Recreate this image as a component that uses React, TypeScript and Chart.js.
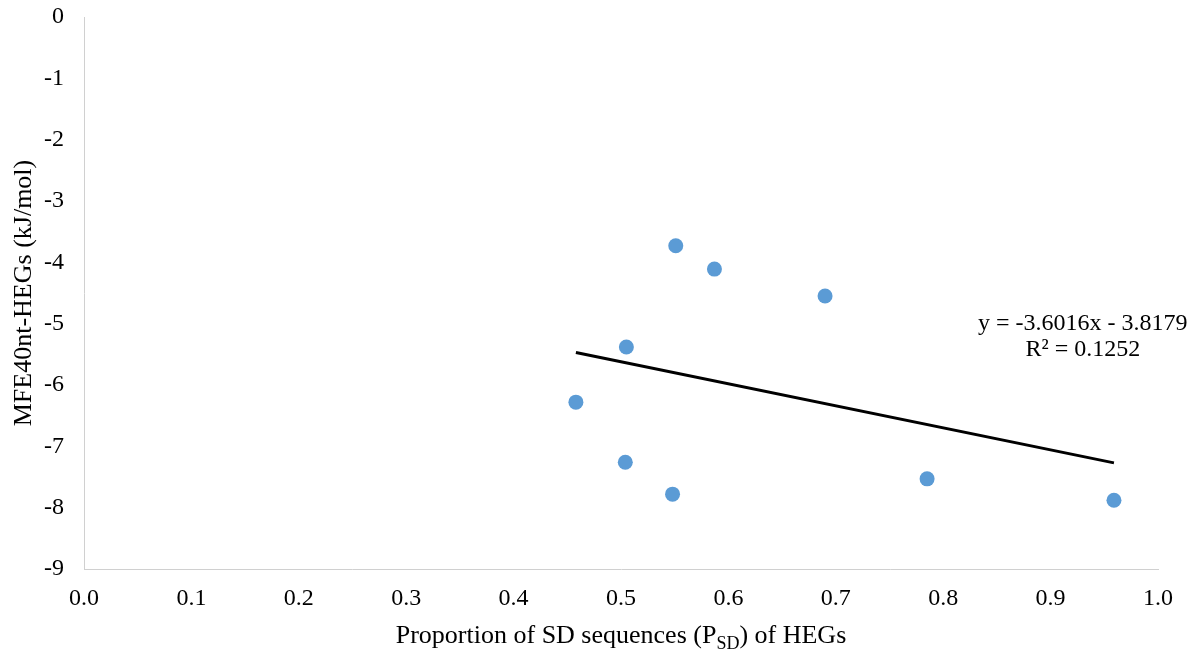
import React, { useEffect, useRef } from "react";
import { Chart, registerables } from "chart.js";

Chart.register(...registerables);

const sdProportion: number[] = [0.551, 0.587, 0.69, 0.505, 0.458, 0.504, 0.548, 0.785, 0.959];
const mfeValues: number[] = [-3.73, -4.11, -4.55, -5.38, -6.28, -7.26, -7.78, -7.53, -7.88];
const trendX: number[] = [0.458, 0.959];
const trendY: number[] = [-5.47, -7.27];
const equationLines: string[] = ["y = -3.6016x - 3.8179", "R² = 0.1252"];
const yTitle = "MFE40nt-HEGs (kJ/mol)";
const xTitleParts = { before: "Proportion of SD sequences (P", sub: "SD", after: ") of HEGs" };

const FONT = "'Liberation Serif', 'Times New Roman', serif";

const textPlugin = {
  id: "textPlugin",
  afterDraw(chart: any) {
    const ctx = chart.ctx as CanvasRenderingContext2D;
    const area = chart.chartArea;
    ctx.save();
    ctx.fillStyle = "#000";
    // equation label
    ctx.font = `24px ${FONT}`;
    ctx.textAlign = "center";
    ctx.textBaseline = "alphabetic";
    const ex = chart.scales.x.getPixelForValue(0.93);
    ctx.fillText(equationLines[0], ex, 330);
    ctx.fillText(equationLines[1], ex, 356);

    // x title with subscript
    const mainFont = `26px ${FONT}`;
    const subFont = `18px ${FONT}`;
    ctx.font = mainFont;
    const w1 = ctx.measureText(xTitleParts.before).width;
    const w3 = ctx.measureText(xTitleParts.after).width;
    ctx.font = subFont;
    const w2 = ctx.measureText(xTitleParts.sub).width;
    const total = w1 + w2 + w3;
    const cx = (area.left + area.right) / 2;
    let x = cx - total / 2;
    const base = 643;
    ctx.textAlign = "left";
    ctx.font = mainFont;
    ctx.fillText(xTitleParts.before, x, base);
    x += w1;
    ctx.font = subFont;
    ctx.fillText(xTitleParts.sub, x, base + 6);
    x += w2;
    ctx.font = mainFont;
    ctx.fillText(xTitleParts.after, x, base);

    // y title
    ctx.translate(31, (area.top + area.bottom) / 2);
    ctx.rotate(-Math.PI / 2);
    ctx.textAlign = "center";
    ctx.font = mainFont;
    ctx.fillText(yTitle, 0, 0);
    ctx.restore();
  },
};

export default function App() {
  const ref = useRef<HTMLCanvasElement | null>(null);
  useEffect(() => {
    document.body.style.margin = "0";
    if (!ref.current) return;
    const chart = new Chart(ref.current, {
      type: "scatter",
      data: {
        datasets: [
          {
            type: "line",
            label: "Trend",
            data: trendX.map((v, i) => ({ x: v, y: trendY[i] })),
            borderColor: "#000000",
            borderWidth: 3,
            pointRadius: 0,
            fill: false,
          } as any,
          {
            label: "HEGs",
            data: sdProportion.map((v, i) => ({ x: v, y: mfeValues[i] })),
            backgroundColor: "#5b9bd5",
            borderWidth: 0,
            pointRadius: 7.5,
          },
        ],
      },
      options: {
        responsive: false,
        animation: false,
        layout: { padding: { left: 0, right: 38, top: 17, bottom: 0 } },
        plugins: { legend: { display: false }, tooltip: { enabled: false } },
        scales: {
          x: {
            type: "linear",
            min: 0,
            max: 1,
            grid: { display: false, drawTicks: false },
            border: { display: true, color: "#d0d0d0", width: 1 },
            ticks: {
              stepSize: 0.1,
              padding: 15,
              color: "#000",
              font: { family: FONT, size: 24 },
              callback: (v: any) => Number(v).toFixed(1),
              maxRotation: 0,
            },
            afterFit: (s: any) => {
              s.height = 82;
              s.paddingLeft = 0;
              s.paddingRight = 0;
            },
          },
          y: {
            type: "linear",
            min: -9,
            max: 0,
            grid: { display: false, drawTicks: false },
            border: { display: true, color: "#d0d0d0", width: 1 },
            ticks: {
              stepSize: 1,
              padding: 20,
              color: "#000",
              font: { family: FONT, size: 24 },
              callback: (v: any) => String(v),
            },
            afterFit: (s: any) => {
              s.width = 84;
              s.paddingTop = 0;
              s.paddingBottom = 0;
            },
          },
        },
      },
      plugins: [textPlugin],
    });
    return () => chart.destroy();
  }, []);
  return (
    <div style={{ width: 1196, height: 651 }}>
      <canvas ref={ref} width={1196} height={651} style={{ display: "block" }} />
    </div>
  );
}
